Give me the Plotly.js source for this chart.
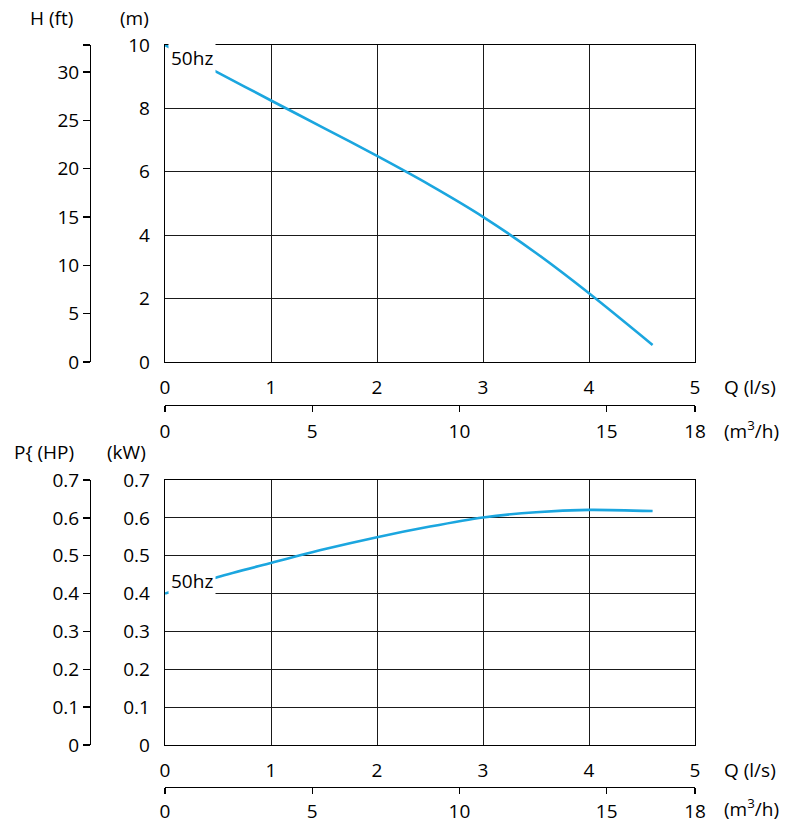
<!DOCTYPE html>
<html><head><meta charset="utf-8">
<script src="https://cdn.plot.ly/plotly-3.0.1.min.js"></script>
<style>html,body{margin:0;padding:0;background:#fff}#chart{width:792px;height:823px}</style>
</head><body><div id="chart"></div>
<script>
// Flow (l/s)
const flowQ = [0, 0.5, 1, 1.5, 2, 2.5, 3, 3.5, 4, 4.6];
// Head (m), 50 Hz
const headM = [10, 9.13, 8.25, 7.38, 6.5, 5.58, 4.58, 3.44, 2.17, 0.54];
// Power (kW), 50 Hz
const powerKW = [0.40, 0.444, 0.481, 0.517, 0.549, 0.577, 0.601, 0.615, 0.621, 0.618];

const qTicks = [0, 1, 2, 3, 4, 5];
const m3hTicks = [0, 5, 10, 15, 18];
const headTicks = [0, 2, 4, 6, 8, 10];
const ftTicks = [0, 5, 10, 15, 20, 25, 30];
const powerTicks = [0, 0.1, 0.2, 0.3, 0.4, 0.5, 0.6, 0.7];
const hpTicks = [0, 0.1, 0.2, 0.3, 0.4, 0.5, 0.6, 0.7];
const seriesLabel = '50hz';

const W = 792, H = 823;
const px = v => v / W;
const py = v => (H - v) / H;
const FONT = {family: 'Open Sans, sans-serif', size: 19, color: '#000'};
const BLUE = '#1ba6df';
const M_TO_FT = 3.2808;

const traces = [
  {x: flowQ, y: headM, xaxis: 'x', yaxis: 'y', mode: 'lines', line: {color: BLUE, width: 2.6, shape: 'spline', smoothing: 0.8}, hoverinfo: 'skip'},
  {x: [], y: [], xaxis: 'x3', yaxis: 'y3', mode: 'markers', hoverinfo: 'skip'},
  {x: flowQ, y: powerKW, xaxis: 'x2', yaxis: 'y2', mode: 'lines', line: {color: BLUE, width: 2.6, shape: 'spline', smoothing: 0.8}, hoverinfo: 'skip'},
  {x: [], y: [], xaxis: 'x4', yaxis: 'y4', mode: 'markers', hoverinfo: 'skip'}
];

const gridAx = {
  showline: true, mirror: true, linecolor: '#000', linewidth: 1.3,
  showgrid: true, gridcolor: '#1a1a1a', gridwidth: 1, zeroline: false,
  ticks: '', tickfont: FONT, fixedrange: true
};
const freeAx = {
  showline: true, linecolor: '#000', linewidth: 1.3, showgrid: false, zeroline: false,
  ticks: 'outside', ticklen: 6, tickwidth: 1.3, tickcolor: '#000', tickfont: FONT, fixedrange: true
};

const topDom = [py(362), py(45)];
const botDom = [py(745), py(480)];
const xDom = [px(165), px(695)];

const layout = {
  width: W, height: H, margin: {l: 0, r: 0, t: 0, b: 0},
  paper_bgcolor: '#fff', plot_bgcolor: '#fff', showlegend: false, font: FONT,
  xaxis: Object.assign({}, gridAx, {domain: xDom, anchor: 'y', range: [0, 5], tickvals: qTicks, ticklabelstandoff: 8}),
  yaxis: Object.assign({}, gridAx, {domain: topDom, anchor: 'x', range: [0, 10], tickvals: headTicks, ticklabelstandoff: 10}),
  xaxis3: Object.assign({}, freeAx, {overlaying: 'x', anchor: 'free', position: py(405), side: 'bottom', range: [0, 18], tickvals: m3hTicks, ticklabelstandoff: 3}),
  yaxis3: Object.assign({}, freeAx, {overlaying: 'y', anchor: 'free', position: px(90), side: 'left', range: [0, 10 * M_TO_FT],
    tickvals: ftTicks.concat([10 * M_TO_FT]), ticktext: ftTicks.map(String).concat([' ']), ticklen: 7}),
  xaxis2: Object.assign({}, gridAx, {domain: xDom, anchor: 'y2', range: [0, 5], tickvals: qTicks, ticklabelstandoff: 8}),
  yaxis2: Object.assign({}, gridAx, {domain: botDom, anchor: 'x2', range: [0, 0.7], tickvals: powerTicks, ticklabelstandoff: 10}),
  xaxis4: Object.assign({}, freeAx, {overlaying: 'x2', anchor: 'free', position: py(787), side: 'bottom', range: [0, 18], tickvals: m3hTicks, ticklabelstandoff: 1}),
  yaxis4: Object.assign({}, freeAx, {overlaying: 'y2', anchor: 'free', position: px(90), side: 'left', range: [0, 0.7], tickvals: hpTicks, ticklen: 7}),
  annotations: [
    {text: seriesLabel, xref: 'paper', yref: 'paper', x: px(168), y: py(58), xanchor: 'left', yanchor: 'middle', showarrow: false, bgcolor: '#fff', borderpad: 2, font: FONT},
    {text: seriesLabel, xref: 'paper', yref: 'paper', x: px(168), y: py(581), xanchor: 'left', yanchor: 'middle', showarrow: false, bgcolor: '#fff', borderpad: 2, font: FONT},
    {text: 'H (ft)', xref: 'paper', yref: 'paper', x: px(28), y: py(18), xanchor: 'left', yanchor: 'middle', showarrow: false, font: FONT},
    {text: '(m)', xref: 'paper', yref: 'paper', x: px(118), y: py(18), xanchor: 'left', yanchor: 'middle', showarrow: false, font: FONT},
    {text: 'Q (l/s)', xref: 'paper', yref: 'paper', x: px(722), y: py(387), xanchor: 'left', yanchor: 'middle', showarrow: false, font: FONT},
    {text: '(m<sup>3</sup>/h)', xref: 'paper', yref: 'paper', x: px(722), y: py(430), xanchor: 'left', yanchor: 'middle', showarrow: false, font: FONT},
    {text: 'P{ (HP)', xref: 'paper', yref: 'paper', x: px(12), y: py(452), xanchor: 'left', yanchor: 'middle', showarrow: false, font: FONT},
    {text: '(kW)', xref: 'paper', yref: 'paper', x: px(105), y: py(452), xanchor: 'left', yanchor: 'middle', showarrow: false, font: FONT},
    {text: 'Q (l/s)', xref: 'paper', yref: 'paper', x: px(722), y: py(770), xanchor: 'left', yanchor: 'middle', showarrow: false, font: FONT},
    {text: '(m<sup>3</sup>/h)', xref: 'paper', yref: 'paper', x: px(722), y: py(808), xanchor: 'left', yanchor: 'middle', showarrow: false, font: FONT}
  ]
};

Plotly.newPlot('chart', traces, layout, {staticPlot: true, displayModeBar: false});
</script>
</body></html>
